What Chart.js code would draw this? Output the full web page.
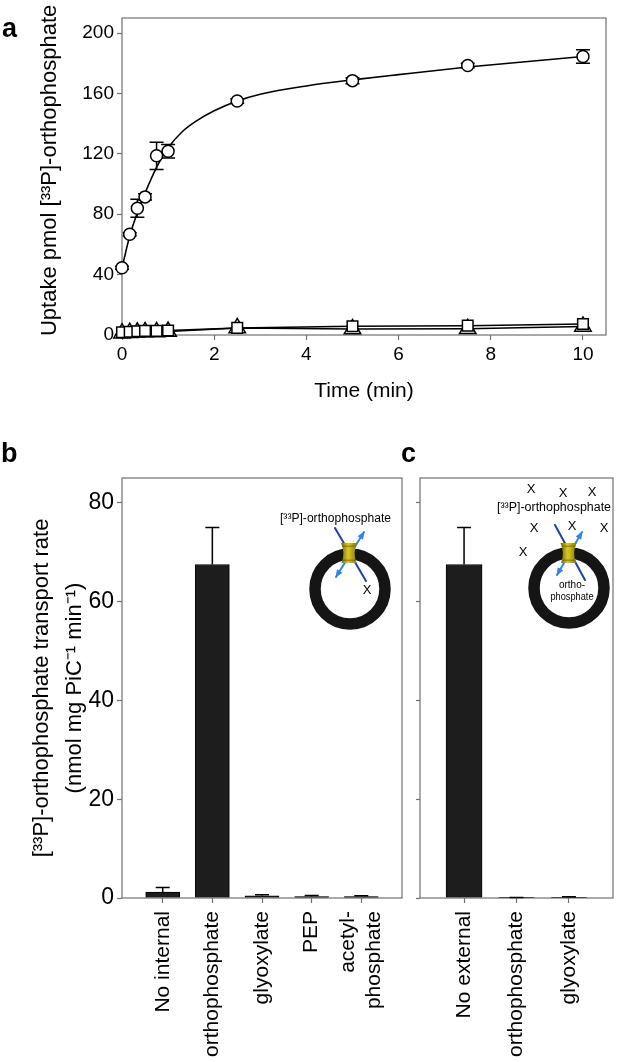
<!DOCTYPE html>
<html><head><meta charset="utf-8">
<script src="https://cdn.jsdelivr.net/npm/chart.js@4"></script>
<style>
html,body{margin:0;padding:0;background:#fff;width:617px;height:1062px;overflow:hidden;}
canvas{position:absolute;}
.lbl{position:absolute;font:bold 27px "Liberation Sans",Arial,sans-serif;line-height:1;color:#000;}
</style></head><body>
<canvas id="ca" width="617" height="420" style="left:0;top:0;width:617px;height:420px"></canvas>
<canvas id="cb" width="405" height="602" style="left:0;top:460px;width:405px;height:602px"></canvas>
<canvas id="cc" width="212" height="602" style="left:405px;top:460px;width:212px;height:602px"></canvas>
<div class="lbl" style="left:2px;top:15px">a</div>
<div class="lbl" style="left:1px;top:440px">b</div>
<div class="lbl" style="left:401px;top:440px">c</div>
<script>
// ---------------- data ----------------
const timeMin = [0, 0.167, 0.333, 0.5, 0.75, 1, 2.5, 5, 7.5, 10];
const uptakeCircle = [44.5, 66.7, 84, 91.5, 118.7, 121.7, 155, 168.5, 178.5, 184.5];
const uptakeCircleErr = [1, 1, 6, 2, 9, 4.5, 1.5, 2, 1.5, 4.5];
const uptakeSquare = [1.8, 2.2, 2.5, 2.7, 2.7, 3.0, 4.7, 5.8, 6.2, 7.3];
const uptakeTriangle = [1.2, 1.5, 1.8, 2.0, 2.0, 2.3, 4.7, 4.0, 4.1, 5.7];
// fitted curve drawn through the circles
const fitTime = [0, 0.167, 0.333, 0.5, 0.75, 1, 1.3, 1.6, 2, 2.5, 3, 4, 5, 6, 7.5, 10];
const fitUptake = [44.5, 65.5, 81, 94, 111, 124, 134.5, 141.5, 148.5, 155, 159.5, 165, 169, 172.5, 177.5, 184.5];
const xTicksA = [0, 2, 4, 6, 8, 10];
const yTicksA = [0, 40, 80, 120, 160, 200];

const internalLabels = ['No internal', 'orthophosphate', 'glyoxylate', 'PEP', ['acetyl-', 'phosphate']];
const internalRate = [1.2, 67.5, 0.45, 0.3, 0.3];
const internalErr = [0.9, 7.5, 0.2, 0.2, 0.15];
const externalLabels = ['No external', 'orthophosphate', 'glyoxylate'];
const externalRate = [67.5, 0.05, 0.15];
const externalErr = [7.5, 0.05, 0.1];
const yTicksBC = [0, 20, 40, 60, 80];

// ---------------- style ----------------
const FONT = '"Liberation Sans", Arial, Helvetica, sans-serif';
const AXIS = '#707070';
Chart.defaults.font.family = FONT;
Chart.defaults.color = '#000';

const pts = (xs, ys) => xs.map((x, i) => ({x, y: ys[i]}));

const boxPlugin = {
  id: 'box',
  beforeDatasetsDraw(chart) {
    const {ctx, chartArea: a} = chart;
    ctx.save();
    ctx.strokeStyle = AXIS; ctx.lineWidth = 1.2;
    ctx.strokeRect(a.left, a.top, a.right - a.left, a.bottom - a.top);
    ctx.restore();
  }
};

const errPlugin = {
  id: 'err',
  beforeDatasetsDraw(chart) {
    const {ctx} = chart;
    chart.data.datasets.forEach((ds, di) => {
      if (!ds.errors) return;
      const meta = chart.getDatasetMeta(di);
      const ys = chart.scales[meta.yAxisID];
      ctx.save();
      ctx.strokeStyle = '#000'; ctx.lineWidth = 1.5;
      ds.data.forEach((d, i) => {
        const v = d.y, e = ds.errors[i];
        const px = meta.data[i].x;
        const yTop = ys.getPixelForValue(v + e);
        const yBot = ds.errorUpOnly ? ys.getPixelForValue(v) : ys.getPixelForValue(v - e);
        const cw = ds.capHalf || 7;
        ctx.beginPath();
        ctx.moveTo(px, yTop); ctx.lineTo(px, yBot);
        ctx.moveTo(px - cw, yTop); ctx.lineTo(px + cw, yTop);
        if (!ds.errorUpOnly) { ctx.moveTo(px - cw, yBot); ctx.lineTo(px + cw, yBot); }
        ctx.stroke();
      });
      ctx.restore();
    });
  }
};

function catTicks(labels) {
  const out = [];
  labels.forEach((lab, i) => {
    if (Array.isArray(lab)) {
      out.push({value: i, txt: '', mark: true});
      lab.forEach((ln, k) => out.push({value: i + (k - (lab.length - 1) / 2) * 0.54, txt: ln, mark: false}));
    } else out.push({value: i, txt: lab, mark: true});
  });
  return out.sort((a, b) => a.value - b.value);
}

// ---------------- inset drawings ----------------
function arrowHead(ctx, from, to) {
  const ang = Math.atan2(to[1] - from[1], to[0] - from[0]);
  const L = 7, W = 3.2;
  ctx.beginPath();
  ctx.moveTo(to[0] + Math.cos(ang) * 1, to[1] + Math.sin(ang) * 1);
  ctx.lineTo(to[0] - Math.cos(ang) * L - Math.sin(ang) * W, to[1] - Math.sin(ang) * L + Math.cos(ang) * W);
  ctx.lineTo(to[0] - Math.cos(ang) * L + Math.sin(ang) * W, to[1] - Math.sin(ang) * L - Math.cos(ang) * W);
  ctx.closePath(); ctx.fill();
}
function drawTransporter(ctx, cx, cy) {
  const g = ctx.createLinearGradient(cx - 8, 0, cx + 8, 0);
  g.addColorStop(0, '#6d6a0a'); g.addColorStop(0.45, '#dcc824'); g.addColorStop(1, '#857a0c');
  ctx.beginPath();
  ctx.moveTo(cx - 8, cy - 10);
  ctx.lineTo(cx + 8, cy - 10);
  ctx.quadraticCurveTo(cx + 3.5, cy, cx + 7.5, cy + 10);
  ctx.lineTo(cx - 7.5, cy + 10);
  ctx.quadraticCurveTo(cx - 3.5, cy, cx - 8, cy - 10);
  ctx.closePath();
  ctx.fillStyle = g; ctx.fill();
  ctx.fillStyle = 'rgba(90,80,0,0.45)';
  ctx.fillRect(cx - 7, cy - 7.5, 14, 1.5);
  ctx.fillRect(cx - 6.5, cy + 6.5, 13, 1.5);
}
function drawInset(ctx, ox, oy, s) {
  ctx.save();
  ctx.translate(-ox, -oy);
  ctx.beginPath(); ctx.arc(s.ring[0], s.ring[1], 35, 0, Math.PI * 2);
  ctx.lineWidth = 11.5; ctx.strokeStyle = '#151515'; ctx.stroke();
  ctx.lineCap = 'round';
  ctx.strokeStyle = '#1c3fae'; ctx.lineWidth = 2;
  ctx.beginPath(); ctx.moveTo(...s.dark[0]); ctx.lineTo(...s.dark[1]); ctx.stroke();
  ctx.strokeStyle = '#2f86e8'; ctx.fillStyle = '#2f86e8';
  ctx.beginPath(); ctx.moveTo(...s.light[0]); ctx.lineTo(...s.light[1]); ctx.stroke();
  arrowHead(ctx, s.light[0], s.light[1]);
  arrowHead(ctx, s.light[1], s.light[0]);
  drawTransporter(ctx, s.tp[0], s.tp[1]);
  ctx.fillStyle = '#000';
  ctx.textAlign = 'center'; ctx.textBaseline = 'middle';
  ctx.font = '12.5px ' + FONT;
  ctx.fillText('[³³P]-orthophosphate', s.title[0], s.title[1], s.title[2]);
  ctx.font = '13px ' + FONT;
  s.xs.forEach(p => ctx.fillText('X', p[0], p[1]));
  if (s.inner) {
    ctx.font = '10px ' + FONT;
    s.inner.forEach(t => ctx.fillText(t[0], t[1], t[2], 43));
  }
  ctx.restore();
}
const insetB = {ring: [350, 589], tp: [349, 553], dark: [[335, 528], [366, 581]], light: [[336, 577], [364, 532]],
  title: [335.5, 518.5, 111], xs: [[367, 590]], inner: null};
const insetC = {ring: [569, 588], tp: [568.5, 553], dark: [[555, 525], [585, 580]], light: [[557, 575], [582, 532]],
  title: [554, 508, 114], xs: [[531, 489], [563, 493], [592, 492], [534, 528], [572, 526], [604, 528], [523, 552]],
  inner: [['ortho-', 572, 585], ['phosphate', 572, 597]]};
const insetPlugin = {
  id: 'inset',
  afterDraw(chart, args, opts) { if (opts && opts.spec) drawInset(chart.ctx, opts.ox, opts.oy, opts.spec); }
};

// ---------------- panel a ----------------
const gridA = {drawOnChartArea: false, drawTicks: true, tickLength: 5, tickColor: AXIS, tickWidth: 1.2};
const markerCommon = {showLine: true, borderColor: '#000', borderWidth: 1.5, pointBackgroundColor: '#fff',
  pointBorderColor: '#000', pointBorderWidth: 1.5, clip: false};
new Chart(document.getElementById('ca'), {
  type: 'scatter',
  data: {datasets: [
    Object.assign({label: 'square', data: pts(timeMin, uptakeSquare), pointStyle: 'rect', pointRadius: 7.5}, markerCommon),
    Object.assign({label: 'triangle', data: pts(timeMin, uptakeTriangle), pointStyle: 'triangle', pointRadius: 9.5}, markerCommon),
    Object.assign({}, markerCommon, {label: 'circle', data: pts(timeMin, uptakeCircle), pointStyle: 'circle', pointRadius: 6,
      showLine: false, errors: uptakeCircleErr, capHalf: 7}),
    {label: 'fit', data: pts(fitTime, fitUptake), showLine: true, pointRadius: 0, borderColor: '#000', borderWidth: 1.6,
      cubicInterpolationMode: 'monotone', clip: false}
  ]},
  options: {
    responsive: false, animation: false, events: [],
    layout: {padding: {top: 18, right: 3, left: 0, bottom: 0}},
    plugins: {legend: {display: false}, tooltip: {enabled: false}},
    scales: {
      x: {type: 'linear', min: 0, max: 10.5,
        afterBuildTicks: s => { s.ticks = xTicksA.map(v => ({value: v})); },
        afterFit: s => { s.height = 85; s.paddingLeft = 0; s.paddingRight = 0; },
        border: {display: false}, grid: gridA,
        ticks: {font: {size: 19}, padding: 3, color: '#000', maxRotation: 0, autoSkip: false},
        title: {display: true, text: 'Time (min)', font: {size: 21}, color: '#000', padding: {top: 0, bottom: 16}}
      },
      y: {type: 'linear', min: 0, max: 210,
        afterBuildTicks: s => { s.ticks = yTicksA.map(v => ({value: v})); },
        afterFit: s => { s.width = 122; s.paddingTop = 0; s.paddingBottom = 0; },
        border: {display: false}, grid: gridA,
        ticks: {font: {size: 19}, padding: 3, color: '#000', autoSkip: false},
        title: {display: true, text: '  Uptake pmol [³³P]-orthophosphate', font: {size: 22}, color: '#000', padding: {top: 37, bottom: 0}}
      }
    }
  },
  plugins: [boxPlugin, errPlugin]
});

// ---------------- panels b, c ----------------
function barChart(canvasId, labels, values, errs, opt) {
  const tickDefs = catTicks(labels);
  const gridBC = {drawOnChartArea: false, drawTicks: true, tickLength: 5, tickWidth: 1.2, offset: false,
    tickColor: c => (c.tick && c.tick.mark === false) ? 'rgba(0,0,0,0)' : AXIS};
  return new Chart(document.getElementById(canvasId), {
    type: 'bar',
    data: {datasets: [{data: values.map((v, i) => ({x: i, y: v})), barThickness: opt.barThickness,
      backgroundColor: '#1d1d1d', borderColor: '#000', borderWidth: 1, errors: errs, errorUpOnly: true, capHalf: 7}]},
    options: {
      responsive: false, animation: false, events: [],
      layout: {padding: {top: 18, right: opt.padRight, left: 0, bottom: 0}},
      plugins: {legend: {display: false}, tooltip: {enabled: false}, inset: opt.inset},
      scales: {
        x: {type: 'linear', min: opt.xmin, max: opt.xmax, offset: false,
          afterBuildTicks: s => { s.ticks = tickDefs.map(t => Object.assign({}, t)); },
          afterFit: s => { s.height = 164; s.paddingLeft = 0; s.paddingRight = 0; },
          border: {display: false}, grid: gridBC,
          ticks: {autoSkip: false, maxRotation: 90, minRotation: 90, padding: 8, color: '#000',
            font: {size: 21}, callback: (v, i, t) => (t[i] && t[i].txt) || ''}
        },
        y: {type: 'linear', min: 0, max: 85,
          afterBuildTicks: s => { s.ticks = yTicksBC.map(v => ({value: v})); },
          afterFit: s => { s.width = opt.yWidth; s.paddingTop = 0; s.paddingBottom = 0; },
          border: {display: false},
          grid: {drawOnChartArea: false, drawTicks: true, tickLength: opt.yTickLen, tickColor: AXIS, tickWidth: 1.2},
          ticks: {display: opt.yLabels, font: {size: 23}, padding: 3, color: '#000', autoSkip: false},
          title: opt.yTitle ? {display: true, text: opt.yTitle, font: {size: 22, lineHeight: 1.5}, color: '#000',
            padding: {top: 25.5, bottom: 0}} : {display: false}
        }
      }
    },
    plugins: [boxPlugin, errPlugin, insetPlugin]
  });
}

barChart('cb', internalLabels, internalRate, internalErr, {
  barThickness: 34, padRight: 3, xmin: -0.82, xmax: 4.82, yWidth: 122, yTickLen: 5, yLabels: true,
  yTitle: ['[³³P]-orthophosphate transport rate', '(nmol mg PiC⁻¹ min⁻¹)'],
  inset: {spec: insetB, ox: 0, oy: 460}
});
barChart('cc', externalLabels, externalRate, externalErr, {
  barThickness: 36, padRight: 4, xmin: -0.84, xmax: 2.84, yWidth: 15, yTickLen: 4, yLabels: false,
  yTitle: null,
  inset: {spec: insetC, ox: 405, oy: 460}
});
</script>
</body></html>
